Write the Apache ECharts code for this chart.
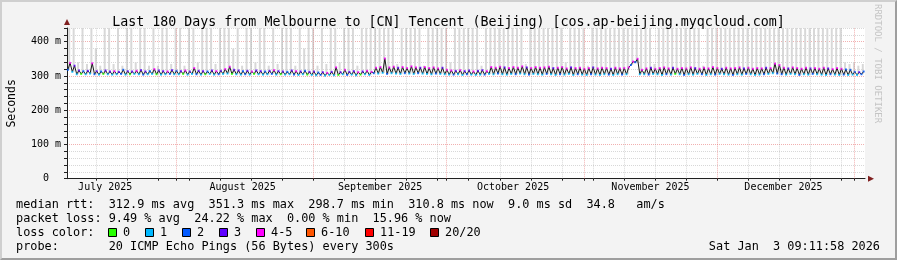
<!DOCTYPE html>
<html><head><meta charset="utf-8">
<script src="https://cdn.jsdelivr.net/npm/echarts@6/dist/echarts.min.js"></script>
<style>
html,body{margin:0;padding:0;background:#f3f3f3;}
#wrap{position:relative;width:897px;height:260px;}
#chart{position:absolute;left:0;top:0;width:897px;height:260px;}
#frame{position:absolute;left:0;top:0;width:897px;height:260px;box-sizing:border-box;border-style:solid;border-width:2px;border-color:#cfcfcf #9e9e9e #9e9e9e #cfcfcf;pointer-events:none;}
</style></head>
<body><div id="wrap"><div id="chart"></div><div id="frame"></div></div>
<script>
// ---------------- data (one entry per day, 180 days ending Sat Jan 3 2026 09:11:58) -------------
const TITLE = 'Last 180 Days from Melbourne to [CN] Tencent (Beijing) [cos.ap-beijing.myqcloud.com]';
const Y_TICKS = [0, 100, 200, 300, 400];
const MONTH_LABELS = ['July 2025','August 2025','September 2025','October 2025','November 2025','December 2025'];
// daily peak of the median rtt (ms)
const medianHigh = [
 338,330,316,314,315,337,314,313,316,313,314,312,318,314,313,315,317,313,314,320,316,314,313,317,315,
 314,316,313,323,315,314,313,316,314,315,320,327,318,316,314,315,313,316,314,313,315,317,314,313,312,316,314,313,315,312,313,
 310,311,309,312,325,311,318,
 312,314,311,313,315,312,
 324,326,351,325,327,324,326,323,328,325,324,326,323,325,322,324,318,316,
 315,317,314,316,313,315,317,314,
 326,324,327,325,323,326,324,328,325,323,326,324,325,327,323,324,326,322,325,323,324,321,323,325,322,324,323,321,324,322,323,325,
 342,350,318,
 322,324,321,323,325,322,324,321,323,322,325,323,321,324,322,326,323,321,324,322,323,325,322,324,321,323,322,324,323,336,332,324,322,325,323,321,324,322,323,321,324,322,320,323,321,319,318,
 312,311,313
];
// daily trough of the median rtt (ms)
const medianLow = [
 318,312,305,306,305,307,305,304,306,305,304,305,306,304,305,306,305,304,305,306,305,304,305,306,305,
 305,306,304,306,305,304,305,306,304,305,306,307,306,305,304,305,304,306,305,304,305,306,304,305,304,305,304,303,305,304,303,
 302,303,301,303,302,303,305,
 303,304,302,304,305,303,
 308,307,309,306,308,307,306,308,307,306,308,307,306,305,307,306,305,304,
 304,305,303,305,304,303,304,304,
 306,305,307,305,304,306,305,307,305,304,306,305,304,306,305,303,305,304,306,303,305,304,303,305,304,303,305,304,303,305,304,305,
 332,340,305,
 305,304,306,305,303,305,304,306,305,303,305,304,306,305,303,305,304,306,305,304,303,305,304,306,305,303,304,305,306,308,307,305,304,306,305,303,305,304,306,305,304,303,305,304,303,304,303,
 304,303,305
];
// lost pings (of 20) at the trough / at the peak
const lossLow = [
 2,1,1,0,1,1,2,1,0,1,1,1,2,1,0,1,1,2,1,1,0,1,1,2,1,1,0,1,1,2,
 1,0,1,1,2,1,1,0,1,1,2,1,0,1,1,1,2,1,0,1,1,2,1,1,0,1,1,2,1,1,
 1,0,1,2,1,1,0,1,1,2,1,1,2,1,1,1,2,1,1,2,1,1,1,2,1,1,1,2,1,1,
 2,1,1,1,2,1,1,2,1,1,1,2,1,1,2,1,1,1,2,1,1,2,1,1,1,2,1,1,2,1,
 1,1,2,1,1,2,1,2,2,1,1,2,1,1,1,2,1,0,1,2,1,1,1,2,1,1,2,1,1,1,
 2,1,1,2,1,1,1,2,1,1,2,2,1,1,1,2,1,1,2,1,1,1,2,1,1,2,1,1,1,2
];
const lossHigh = [
 4,3,3,2,3,4,3,2,3,3,4,3,2,3,3,4,3,3,2,4,3,3,4,3,2,3,4,3,4,3,
 3,2,3,4,3,4,4,3,3,2,3,4,3,3,2,3,4,3,3,2,3,4,3,2,3,3,2,3,4,3,
 4,3,4,3,3,4,3,4,4,4,4,4,4,4,3,4,4,4,4,3,4,4,4,4,3,4,4,3,4,3,
 3,4,3,3,4,4,4,4,3,4,4,4,4,3,4,4,4,4,4,3,4,4,4,3,4,4,4,4,3,4,
 4,4,3,4,4,4,4,4,4,4,4,3,4,4,4,4,3,4,4,4,4,3,4,4,4,4,4,3,4,4,
 4,4,3,4,4,4,4,3,4,4,4,4,3,4,4,4,4,3,4,4,4,3,4,4,4,2,2,2,3,2
];
// highest ping of the day (smoke top, ms)
const smokeTop = [
 450,450,340,450,335,450,380,330,450,450,335,450,330,450,450,340,450,450,330,450,330,450,450,335,450,450,330,450,450,340,
 450,450,450,335,450,450,450,380,450,330,450,450,340,450,450,330,450,335,450,450,450,330,450,380,450,450,330,450,335,450,
 450,340,450,450,450,330,450,450,450,450,450,450,450,450,335,450,450,450,450,450,330,450,450,450,450,450,340,450,450,450,
 450,450,450,330,450,450,450,450,450,450,450,450,450,335,450,450,450,450,450,450,450,450,340,450,450,450,450,330,450,450,
 450,450,450,450,450,450,450,450,450,450,450,450,335,450,450,450,450,450,450,450,450,450,450,330,450,450,450,450,450,450,
 450,450,450,450,450,450,450,450,450,450,450,450,450,450,450,450,450,450,450,450,450,450,450,450,450,340,335,340,330,335
];
const LOSS_LEGEND = [['0','#26ff00'],['1','#00b8ff'],['2','#0059ff'],['3','#5e00ff'],['4-5','#ff00ff'],['6-10','#ff5500'],['11-19','#ff0000'],['20/20','#a00000']];
const LEGEND_ROWS = [
 'median rtt:  312.9 ms avg  351.3 ms max  298.7 ms min  310.8 ms now  9.0 ms sd  34.8   am/s',
 'packet loss: 9.49 % avg  24.22 % max  0.00 % min  15.96 % now',
 'loss color:',
 'probe:       20 ICMP Echo Pings (56 Bytes) every 300s'
];
const STAMP = 'Sat Jan  3 09:11:58 2026';

// ---------------- build ----------------
const DAY = 86400000;
const origin = Date.UTC(2025, 6, 7);   // a Monday, midnight
const axisMax = (Date.UTC(2026, 0, 3, 9, 11, 58) - origin) / DAY;
const axisMin = axisMax - 180;
const dayOf = (y, m, d) => (Date.UTC(y, m, d) - origin) / DAY;
const monthStarts = [[2025,7],[2025,8],[2025,9],[2025,10],[2025,11],[2026,0]].map(a => dayOf(a[0], a[1], 1));
const monthMids = [[2025,6],[2025,7],[2025,8],[2025,9],[2025,10],[2025,11]].map(a => dayOf(a[0], a[1], 16));
const weeks = [];
for (let w = 7; w < axisMax; w += 7) if (monthStarts.indexOf(w) < 0) weeks.push(w);

const lineData = [], dotData = [], smokeData = [];
for (let d = 0; d < medianHigh.length; d++) {
  const xl = axisMin + d + 0.2, xh = axisMin + d + 0.7;
  lineData.push([xl, medianLow[d]], [xh, medianHigh[d]]);
  dotData.push([xl, medianLow[d], lossLow[d]], [xh, medianHigh[d], lossHigh[d]]);
  smokeData.push([axisMin + d + 0.5, medianLow[d], smokeTop[d]]);
}

const MONO = 'DejaVu Sans Mono';
const FONT = '11.85px "DejaVu Sans Mono"';
const GRID_C = 'rgba(143,143,143,0.35)';
const MGRID_C = 'rgba(224,80,80,0.45)';
const graphics = [];
LEGEND_ROWS.forEach((t, i) => graphics.push({type:'text', left:16, top:199 + i*14, style:{text:t, font:FONT, fill:'#000'}}));
const boxX = [108,145,182,219,256,306,365,430];
LOSS_LEGEND.forEach((l, i) => {
  graphics.push({type:'rect', shape:{x:boxX[i]+0.5, y:228.5, width:8, height:8}, style:{fill:l[1], stroke:'#000', lineWidth:1}});
  graphics.push({type:'text', left:boxX[i]+15, top:227, style:{text:l[0], font:FONT, fill:'#000'}});
});
graphics.push({type:'text', right:17, top:241, style:{text:STAMP, font:FONT, fill:'#000'}});
graphics.push({type:'text', x:882, y:4, rotation:-Math.PI/2, style:{text:'RRDTOOL / TOBI OETIKER', font:'9px "DejaVu Sans Mono"', fill:'#c4c4c4'}});
// axis arrows
graphics.push({type:'polygon', shape:{points:[[64,25],[70,25],[67,19]]}, style:{fill:'#802020'}});
graphics.push({type:'polygon', shape:{points:[[868,175.7],[868,181.7],[874,178.7]]}, style:{fill:'#802020'}});

const gridLines = monthStarts.map(v => ({xAxis: v, lineStyle: {color: MGRID_C}}))
  .concat(weeks.map(v => ({xAxis: v, lineStyle: {color: GRID_C}})));

const chart = echarts.init(document.getElementById('chart'));
chart.setOption({
  animation: false,
  backgroundColor: '#f3f3f3',
  textStyle: {fontFamily: MONO},
  title: {text: TITLE, left: 'center', top: 11, textStyle: {fontFamily: MONO, fontSize: 13.3, fontWeight: 'normal', color: '#000'}},
  grid: {left: 67, right: 32, top: 28, bottom: 81.3, show: true, backgroundColor: '#fff', borderWidth: 0, outerBoundsMode: 'none', containLabel: false},
  xAxis: {
    type: 'value', min: axisMin, max: axisMax,
    axisLine: {show: true, lineStyle: {color: '#202020'}},
    axisTick: {show: true, customValues: weeks.concat(monthStarts), length: 2, inside: false, lineStyle: {color: '#202020'}},
    splitLine: {show: false},
    axisLabel: {customValues: monthMids, formatter: (v) => { const i = monthMids.findIndex(m => Math.abs(m - v) < 1e-6); return i >= 0 ? MONTH_LABELS[i] : ''; }, fontFamily: MONO, fontSize: 10, color: '#000', margin: 4}
  },
  yAxis: {
    type: 'value', min: 0, max: 440, interval: 20,
    name: 'Seconds', nameLocation: 'middle', nameGap: 49, nameRotate: 90,
    nameTextStyle: {fontFamily: MONO, fontSize: 11.5, color: '#000'},
    axisLine: {show: true, lineStyle: {color: '#202020'}},
    axisTick: {show: true, length: 3, lineStyle: {color: '#202020'}},
    axisLabel: {fontFamily: MONO, fontSize: 10, color: '#000', margin: 6,
      formatter: (v) => Y_TICKS.indexOf(v) < 0 ? '' : (v === 0 ? '0  ' : v + ' m')},
    splitLine: {show: true, lineStyle: {color: [MGRID_C, GRID_C, GRID_C, GRID_C, GRID_C], type: [1, 1], width: 1}}
  },
  visualMap: {show: false, type: 'piecewise', seriesIndex: 2, dimension: 2,
    pieces: [{value:0,color:'#26ff00'},{value:1,color:'#00b8ff'},{value:2,color:'#0059ff'},{value:3,color:'#5e00ff'},{min:4,max:5,color:'#ff00ff'},{min:6,max:10,color:'#ff5500'},{min:11,max:19,color:'#ff0000'},{min:20,max:20,color:'#a00000'}]},
  graphic: graphics,
  series: [
    {type: 'custom', z: 1, silent: true, data: smokeData, encode: {x: 0, y: [1, 2]},
      renderItem: (params, api) => {
        const lo = api.coord([api.value(0), api.value(1)]);
        const hi = api.coord([api.value(0), api.value(2)]);
        const top = Math.max(hi[1], params.coordSys.y);
        return {type: 'rect', shape: {x: lo[0] - 1, y: top, width: 2, height: lo[1] - top}, style: {fill: '#d8d8d8'}};
      },
      markLine: {silent: true, symbol: 'none', label: {show: false}, lineStyle: {type: [1, 1], width: 1}, data: gridLines}
    },
    {type: 'line', z: 2, silent: true, data: lineData, showSymbol: false, lineStyle: {color: '#1a1a1a', width: 1}},
    {type: 'scatter', z: 3, silent: true, data: dotData, symbol: 'rect', symbolSize: 2}
  ]
});
</script></body></html>
